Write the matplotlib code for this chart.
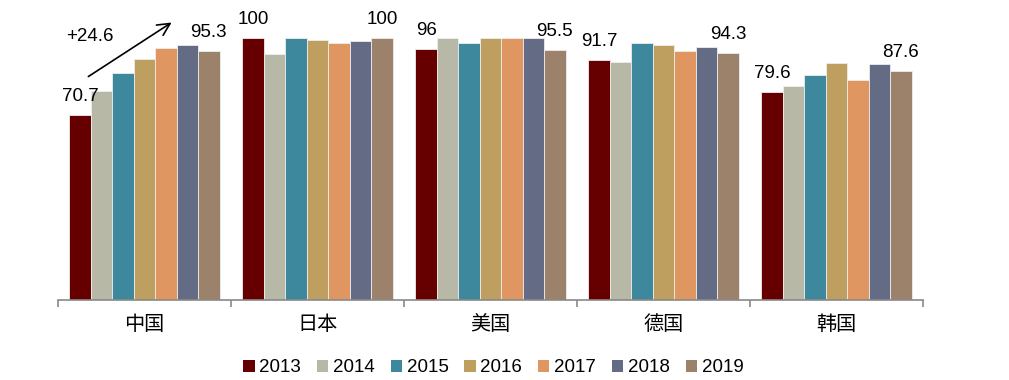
import matplotlib
matplotlib.use("Agg")
import matplotlib.pyplot as plt
from matplotlib.patches import Patch
import numpy as np

plt.rcParams['font.family'] = ['Liberation Sans', 'Noto Sans CJK SC', 'DejaVu Sans']

countries = ['中国', '日本', '美国', '德国', '韩国']
years = ['2013', '2014', '2015', '2016', '2017', '2018', '2019']
values = {
    '2013': [70.7, 100, 96, 91.7, 79.6],
    '2014': [79.8, 94.0, 100, 90.9, 81.9],
    '2015': [86.7, 100, 98.1, 98.1, 85.9],
    '2016': [92.0, 99.3, 100, 97.3, 90.7],
    '2017': [96.4, 98.2, 100, 95.0, 84.2],
    '2018': [97.5, 99.1, 100, 96.7, 90.1],
    '2019': [95.3, 100, 95.5, 94.3, 87.6],
}
label_2013 = ['70.7', '100', '96', '91.7', '79.6']
label_2019 = ['95.3', '100', '95.5', '94.3', '87.6']
colors = ['#660000', '#B8B8A6', '#3D889C', '#BF9F60', '#E09660', '#646B85', '#9C826A']

fig = plt.figure(figsize=(10.09, 3.8), dpi=100)
ax = fig.add_axes([58/1009, 1-300/380, 865/1009, (300-12.1)/380])

x = np.arange(len(countries))
w = 0.124
for i, y in enumerate(years):
    off = (i - 3) * w
    ax.bar(x + off, values[y], width=w, color=colors[i], edgecolor='#EDEDED', linewidth=0.6, zorder=2)

for j in range(len(countries)):
    ax.annotate(label_2013[j], (x[j] - 3*w, values['2013'][j]), xytext=(0, 10), textcoords='offset points',
                ha='center', va='baseline', fontsize=13.5)
    ax.annotate(label_2019[j], (x[j] + 3*w, values['2019'][j]), xytext=(0, 10), textcoords='offset points',
                ha='center', va='baseline', fontsize=13.5)

ax.annotate('', xy=(0.17, 106.6), xytext=(-0.338, 84.8),
            arrowprops=dict(arrowstyle='->', color='black', lw=1.2, mutation_scale=22))
ax.text(-0.315, 100.5, '+24.6', ha='center', va='center', fontsize=13.5)

ax.set_xlim(-0.5, 4.5)
ax.set_ylim(0, 110)
for s in ['top', 'right', 'left']:
    ax.spines[s].set_visible(False)
ax.spines['bottom'].set_color('#898989')
ax.spines['bottom'].set_linewidth(1.2)
ax.set_yticks([])
ax.set_xticks(x)
ax.set_xticklabels(countries, fontsize=14.5, family=['Noto Sans CJK SC', 'DejaVu Sans'])
ax.tick_params(axis='x', which='major', length=0, pad=10)
ax.set_xticks(np.arange(-0.5, 5, 1), minor=True)
ax.tick_params(axis='x', which='minor', length=5, width=1.2, color='#898989')

handles = [Patch(facecolor=c, edgecolor='none', label=y) for c, y in zip(colors, years)]
fig.legend(handles=handles, loc='center', bbox_to_anchor=(0.489, 1-368/380), ncol=7, frameon=False,
           fontsize=13.5, handlelength=0.6, handleheight=0.6, handletextpad=0.25, columnspacing=0.85,
           borderaxespad=0)

fig.savefig('out.png', dpi=100)
